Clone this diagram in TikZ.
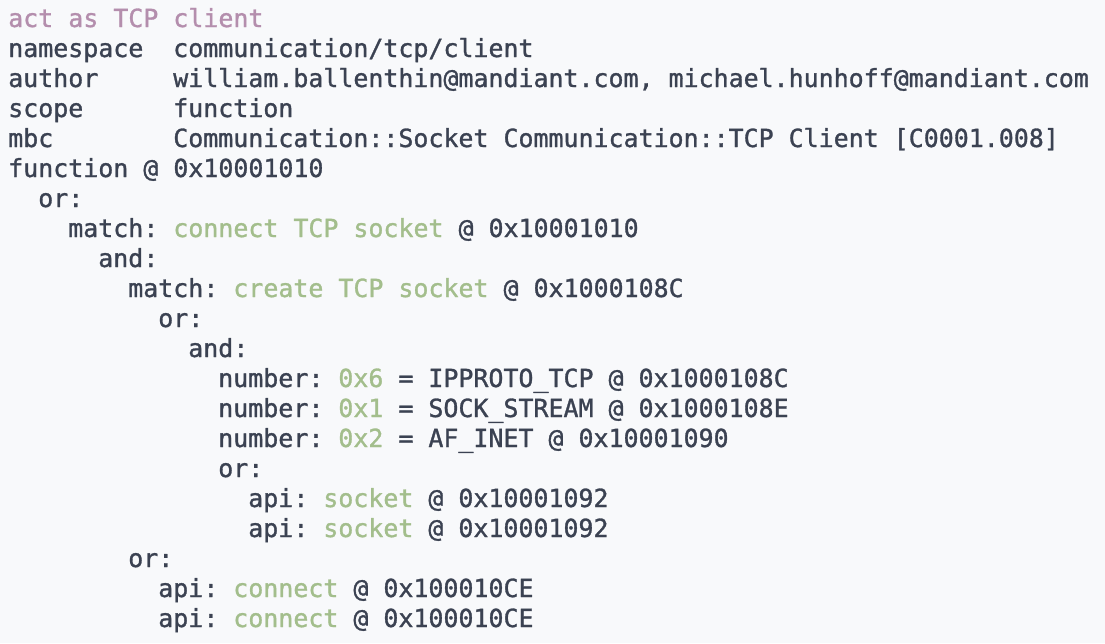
\documentclass[tikz,border=0pt]{standalone}
\usepackage{fontspec}
\newfontfamily\termfont[BoldFont={DejaVu Sans Mono}, BoldFeatures={FakeBold=1.2}]{DejaVu Sans Mono}
\usepackage{tikz}

\definecolor{termbg}{HTML}{F8F9FB}
\definecolor{termfg}{HTML}{3B4252}
\definecolor{rulename}{HTML}{B48EAD}
\definecolor{matched}{HTML}{A3BE8C}

\newcommand{\hl}[1]{\textcolor{matched}{#1}}

\begin{document}
\begin{tikzpicture}[
    x=0.75pt,
    y=-0.75pt,
    txtline/.style={
        anchor=base west,
        inner sep=0pt,
        text=termfg,
        font=\fontsize{18.7}{22.5}\selectfont\termfont\bfseries\frenchspacing
    },
    title/.style={
        txtline,
        text=rulename
    }
]

% background
\fill[termbg] (0,0) rectangle (1105,643);
\useasboundingbox (0,0) rectangle (1105,643);

% header
\node[title] (rule) at (8,27) {act as TCP client};
\node[txtline] (nskey) at (8,57) {namespace};
\node[txtline] (nsval) at (173,57) {communication/tcp/client};
\node[txtline] (authkey) at (8,87) {author};
\node[txtline] (authval) at (173,87) {william.ballenthin@mandiant.com, michael.hunhoff@mandiant.com};
\node[txtline] (scopekey) at (8,117) {scope};
\node[txtline] (scopeval) at (173,117) {function};
\node[txtline] (mbckey) at (8,147) {mbc};
\node[txtline] (mbcval) at (173,147) {Communication::Socket Communication::TCP Client [C0001.008]};

% matches
\node[txtline] (func) at (8,177) {function @ 0x10001010};
\node[txtline] (or1) at (38,207) {or:};
\node[txtline] (match1) at (68,237) {match: \hl{connect TCP socket} @ 0x10001010};
\node[txtline] (and1) at (98,267) {and:};
\node[txtline] (match2) at (128,297) {match: \hl{create TCP socket} @ 0x1000108C};
\node[txtline] (or2) at (158,327) {or:};
\node[txtline] (and2) at (188,357) {and:};
\node[txtline] (num1) at (218,387) {number: \hl{0x6} = IPPROTO\_TCP @ 0x1000108C};
\node[txtline] (num2) at (218,417) {number: \hl{0x1} = SOCK\_STREAM @ 0x1000108E};
\node[txtline] (num3) at (218,447) {number: \hl{0x2} = AF\_INET @ 0x10001090};
\node[txtline] (or3) at (218,477) {or:};
\node[txtline] (api1) at (248,507) {api: \hl{socket} @ 0x10001092};
\node[txtline] (api2) at (248,537) {api: \hl{socket} @ 0x10001092};
\node[txtline] (or4) at (128,567) {or:};
\node[txtline] (api3) at (158,597) {api: \hl{connect} @ 0x100010CE};
\node[txtline] (api4) at (158,627) {api: \hl{connect} @ 0x100010CE};

\end{tikzpicture}
\end{document}
